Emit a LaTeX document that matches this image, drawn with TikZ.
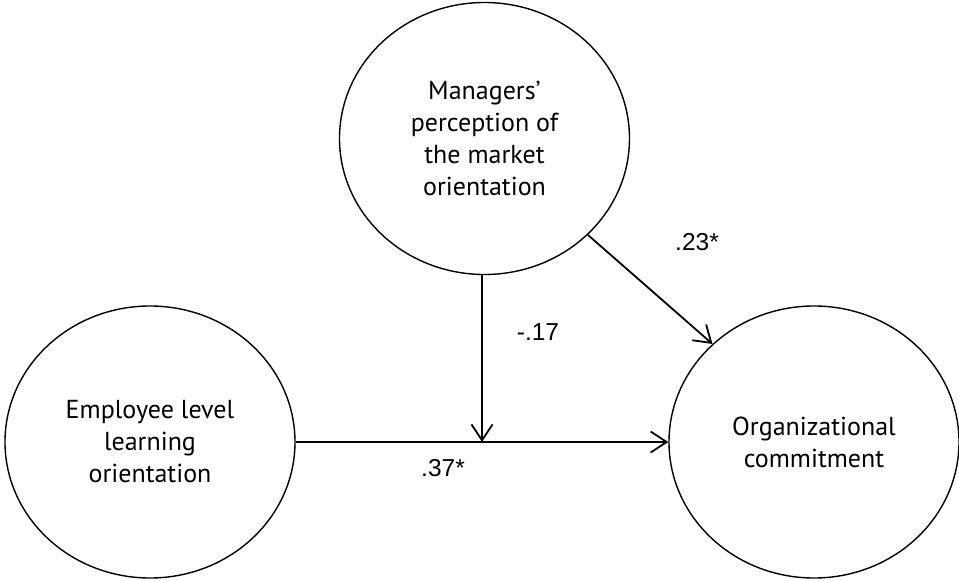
\documentclass[tikz,border=0pt]{standalone}
\usepackage{fontspec}
\setmainfont{PT Sans}
\newfontfamily\coeffont{Liberation Sans}
\usetikzlibrary{shapes.geometric,arrows.meta}
\begin{document}
\begin{tikzpicture}[x=1pt,y=-1pt,
  construct/.style={draw,ellipse,line width=1.4pt,minimum width=290pt,minimum height=272pt,
    inner sep=0pt,align=center,font=\fontsize{26}{32}\selectfont},
  pathline/.style={line width=1.8pt,-{Straight Barb[length=16pt,width=21pt,line width=1.8pt]}},
  coef/.style={font=\coeffont\fontsize{24.5}{30}\selectfont,inner sep=0pt}]
  \useasboundingbox (0,0) rectangle (959,581);
  % latent constructs
  \node[construct] (mgr) at (484.5,138.5) {Managers’\\perception of\\the market\\orientation};
  \node[construct] (emp) at (150,442) {Employee level\\learning\\orientation};
  \node[construct] (org) at (814,442) {Organizational\\commitment};
  % moderation point on the main path
  \coordinate (mid) at (482,442);
  % paths
  \draw[pathline] (emp.east) -- (org.west);
  \draw[pathline] (mgr.south -| mid) -- (mid);
  \draw[pathline] (mgr.-43.8) -- (org.136.4);
  % path coefficients
  \node[coef] (c1) at (443,468) {.37*};
  \node[coef] (c2) at (538,332) {-.17};
  \node[coef] (c3) at (697,242) {.23*};
\end{tikzpicture}
\end{document}
